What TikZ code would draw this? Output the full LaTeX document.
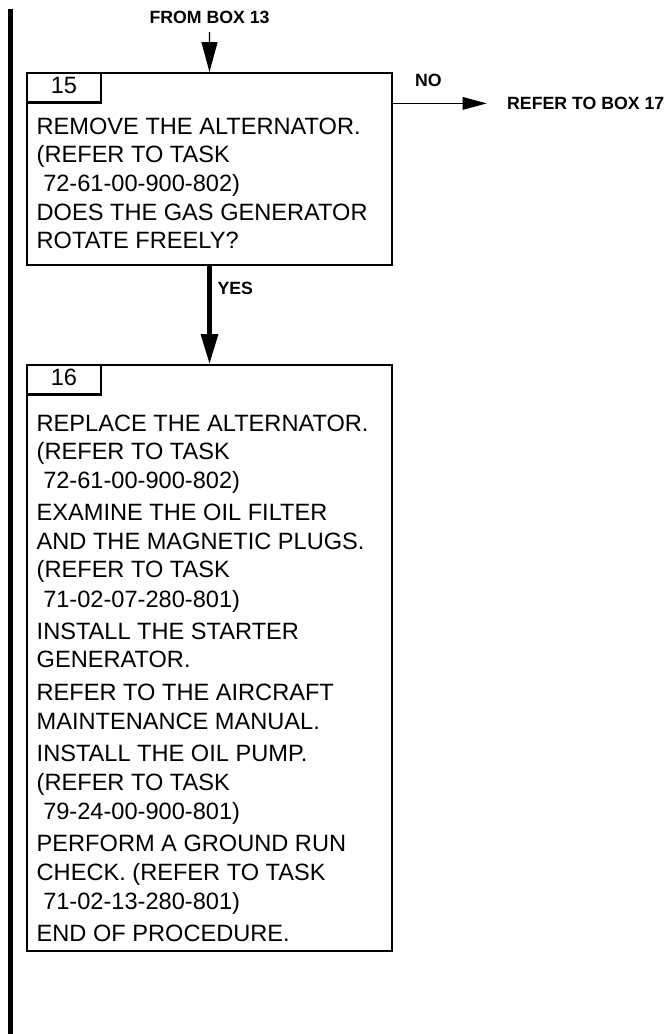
\documentclass[tikz,border=0pt]{standalone}
\usepackage{fontspec}
\setmainfont{Liberation Sans}
\usetikzlibrary{arrows.meta}

\tikzset{
  boxline/.style={draw=black,line width=2.2pt},
  stepbox/.style={boxline,anchor=north west,minimum width=364.8pt,inner sep=0pt},
  numtab/.style={boxline,anchor=north west,minimum width=73.8pt,minimum height=29.3pt,
    inner sep=0pt,text depth=4pt,font=\fontsize{23.6}{28}\selectfont},
  bodytext/.style={anchor=base west,inner sep=0pt,font=\fontsize{23.6}{28}\selectfont},
  flowlabel/.style={inner sep=0pt,font=\bfseries\fontsize{17.7}{20}\selectfont},
  inflow/.style={line width=1.3pt,-{Triangle[length=30pt,width=16pt]}},
  yesflow/.style={line width=4.2pt,-{Triangle[length=30pt,width=16.7pt]}},
  noflow/.style={line width=1.3pt,-{Triangle[length=24pt,width=12.6pt]}}
}

\begin{document}
\begin{tikzpicture}[x=1pt,y=-1pt]
\useasboundingbox (0,0) rectangle (671,1034);
\draw[line width=4.4pt] (10.5,8.5) -- (10.5,1034);

\node[stepbox,minimum height=191.8pt] (b15) at (26,72) {};
\node[numtab] (t15) at (b15.north west) {15};
\foreach \y/\txt [count=\i] in {134/REMOVE THE ALTERNATOR.,
    162.7/(REFER TO TASK, 191.5/~72-61-00-900-802),
    220/DOES THE GAS GENERATOR, 248.3/ROTATE FREELY?}
  \node[bodytext] (s15-\i) at (36.5,\y) {\txt};

\node[stepbox,minimum height=585.8pt] (b16) at (26,364) {};
\node[numtab] (t16) at (b16.north west) {16};
\foreach \y/\txt [count=\i] in {431.7/REPLACE THE ALTERNATOR.,
    459.8/(REFER TO TASK, 488.5/~72-61-00-900-802),
    520.7/EXAMINE THE OIL FILTER, 549.2/AND THE MAGNETIC PLUGS.,
    577.8/(REFER TO TASK, 607.3/~71-02-07-280-801),
    639.3/INSTALL THE STARTER, 667.9/GENERATOR.,
    700.2/REFER TO THE AIRCRAFT, 729.8/MAINTENANCE MANUAL.,
    761.7/INSTALL THE OIL PUMP., 790.3/(REFER TO TASK, 819.3/~79-24-00-900-801),
    851.7/PERFORM A GROUND RUN, 880.8/CHECK. (REFER TO TASK, 909.8/~71-02-13-280-801),
    941.5/END OF PROCEDURE.}
  \node[bodytext] (s16-\i) at (36.5,\y) {\txt};

\node[flowlabel,anchor=base] (from13) at (209.5,23.3) {FROM BOX 13};
\node[flowlabel,anchor=base west] (no) at (415,86) {NO};
\node[flowlabel,anchor=base west] (refer17) at (507,109.5) {REFER TO BOX 17};
\node[flowlabel,anchor=base west] (yes) at (217.3,294) {YES};

\draw[inflow,shorten <=8.4pt] (from13.south) -- (b15.north);
\draw[noflow,shorten >=20.3pt] (b15.east |- refer17.west) -- (refer17.west);
\draw[yesflow] (b15.south) -- (b16.north);
\end{tikzpicture}
\end{document}
